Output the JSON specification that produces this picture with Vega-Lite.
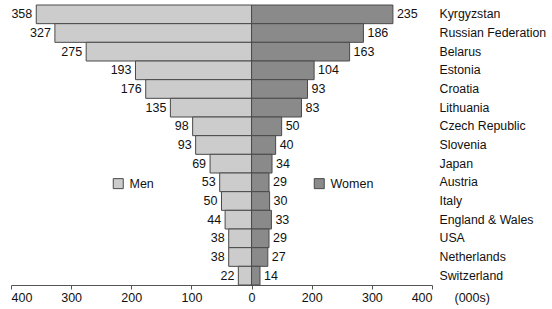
{
  "$schema": "https://vega.github.io/schema/vega-lite/v6.json",
  "width": 421,
  "height": 280,
  "autosize": {"type": "none"},
  "padding": {"left": 11, "top": 5, "right": 120, "bottom": 24},
  "background": "white",
  "config": {
    "font": "Liberation Sans",
    "view": {"stroke": null},
    "axis": {"labelFont": "Liberation Sans", "labelFontSize": 12.5, "labelColor": "#111"},
    "text": {"font": "Liberation Sans", "fontSize": 12.5, "color": "#111"}
  },
  "data": {
    "values": [
      {"country": "Kyrgyzstan", "sex": "Men", "value": 358},
      {"country": "Kyrgyzstan", "sex": "Women", "value": 235},
      {"country": "Russian Federation", "sex": "Men", "value": 327},
      {"country": "Russian Federation", "sex": "Women", "value": 186},
      {"country": "Belarus", "sex": "Men", "value": 275},
      {"country": "Belarus", "sex": "Women", "value": 163},
      {"country": "Estonia", "sex": "Men", "value": 193},
      {"country": "Estonia", "sex": "Women", "value": 104},
      {"country": "Croatia", "sex": "Men", "value": 176},
      {"country": "Croatia", "sex": "Women", "value": 93},
      {"country": "Lithuania", "sex": "Men", "value": 135},
      {"country": "Lithuania", "sex": "Women", "value": 83},
      {"country": "Czech Republic", "sex": "Men", "value": 98},
      {"country": "Czech Republic", "sex": "Women", "value": 50},
      {"country": "Slovenia", "sex": "Men", "value": 93},
      {"country": "Slovenia", "sex": "Women", "value": 40},
      {"country": "Japan", "sex": "Men", "value": 69},
      {"country": "Japan", "sex": "Women", "value": 34},
      {"country": "Austria", "sex": "Men", "value": 53},
      {"country": "Austria", "sex": "Women", "value": 29},
      {"country": "Italy", "sex": "Men", "value": 50},
      {"country": "Italy", "sex": "Women", "value": 30},
      {"country": "England & Wales", "sex": "Men", "value": 44},
      {"country": "England & Wales", "sex": "Women", "value": 33},
      {"country": "USA", "sex": "Men", "value": 38},
      {"country": "USA", "sex": "Women", "value": 29},
      {"country": "Netherlands", "sex": "Men", "value": 38},
      {"country": "Netherlands", "sex": "Women", "value": 27},
      {"country": "Switzerland", "sex": "Men", "value": 22},
      {"country": "Switzerland", "sex": "Women", "value": 14}
    ]
  },
  "transform": [
    {"calculate": "datum.sex == 'Men' ? -datum.value : datum.value", "as": "pos"}
  ],
  "encoding": {
    "y": {
      "field": "country",
      "type": "nominal",
      "sort": ["Kyrgyzstan", "Russian Federation", "Belarus", "Estonia", "Croatia", "Lithuania", "Czech Republic", "Slovenia", "Japan", "Austria", "Italy", "England & Wales", "USA", "Netherlands", "Switzerland"],
      "scale": {"paddingInner": 0, "paddingOuter": 0},
      "axis": {"orient": "right", "title": null, "domain": false, "ticks": false, "labelPadding": 7, "labelAlign": "left", "labelFontSize": 12.3}
    }
  },
  "layer": [
    {
      "mark": {"type": "bar", "stroke": "#4a4a4a", "strokeWidth": 1},
      "encoding": {
        "x": {
          "field": "pos",
          "type": "quantitative",
          "scale": {"domain": [-400, 300], "nice": false},
          "axis": {
            "values": [-400, -300, -200, -100, 0, 100, 200, 300],
            "labelExpr": "datum.value < 0 ? -datum.value : (datum.value == 0 ? '0' : datum.value + 100)",
            "grid": false,
            "tickSize": 4,
            "labelPadding": 2,
            "domainColor": "#555",
            "tickColor": "#555",
            "title": "(000s)",
            "titleX": 443,
            "titleY": 6,
            "titleAlign": "left",
            "titleBaseline": "top",
            "titleFontWeight": "normal",
            "titleFontSize": 12.5,
            "titleColor": "#111"
          }
        },
        "fill": {
          "field": "sex",
          "type": "nominal",
          "scale": {"domain": ["Men", "Women"], "range": ["#cccccc", "#8a8a8a"]},
          "legend": {
            "orient": "none",
            "legendX": 101,
            "legendY": 172,
            "direction": "horizontal",
            "title": null,
            "symbolType": "square",
            "symbolSize": 100,
            "symbolStrokeColor": "#4a4a4a",
            "symbolStrokeWidth": 1,
            "labelFontSize": 12.5,
            "labelOffset": 5,
            "columnPadding": 158,
            "padding": 0,
            "labelColor": "#111"
          }
        }
      }
    },
    {
      "transform": [{"filter": "datum.sex == 'Men'"}],
      "mark": {"type": "text", "align": "right", "dx": -4, "baseline": "middle"},
      "encoding": {
        "x": {"field": "pos", "type": "quantitative"},
        "text": {"field": "value", "type": "quantitative"}
      }
    },
    {
      "transform": [{"filter": "datum.sex == 'Women'"}],
      "mark": {"type": "text", "align": "left", "dx": 4, "baseline": "middle"},
      "encoding": {
        "x": {"field": "pos", "type": "quantitative"},
        "text": {"field": "value", "type": "quantitative"}
      }
    }
  ]
}
